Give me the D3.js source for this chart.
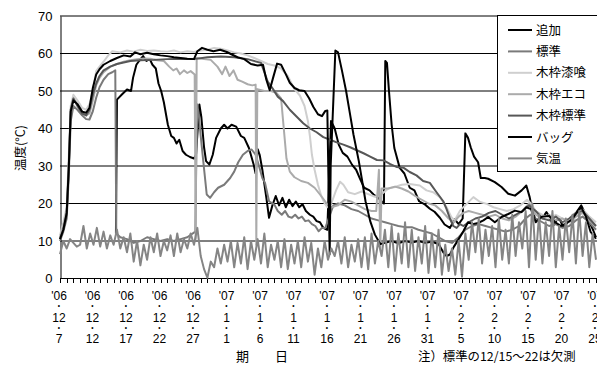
<!DOCTYPE html>
<html><head><meta charset="utf-8">
<script src="https://cdn.jsdelivr.net/npm/d3@7"></script>
<style>body{margin:0;background:#fff}svg{display:block}</style>
</head><body>
<svg id="chart" width="597" height="370"></svg>
<script>
// Temperatures of compost piles, Dec 7 2006 – Feb 25 2007.
// Each series: [day offset from 12/7, °C]
const tsuika = [[8.35,12],[8.5,47.7],[9.2,49],[10,50.4],[10.6,50],[10.9,53.5],[11.4,57],[11.8,58],[12.4,59.3],[12.9,58],[13.4,58.5],[13.8,57],[14.3,56],[14.7,52],[15.1,50],[15.5,47],[16.1,41],[16.6,38],[17,37.5],[17.4,36],[17.8,37],[18.3,34],[18.8,33],[19.4,32.4],[20,32],[20.3,33],[20.8,46.4],[21.1,43],[21.5,35],[21.8,31.3],[22.3,30.4],[22.8,33],[23.3,37.5],[24,40],[24.5,41],[25,40],[25.6,41],[26.3,40.5],[27,38],[27.5,37.5],[28.2,34.8],[28.9,30.4],[29.2,28],[29.5,34.5],[29.8,33],[30.2,29],[30.8,21.5],[31.2,16.2],[31.7,19.5],[32.2,22],[32.7,19.5],[33.2,21.5],[33.7,19],[34.2,21],[34.7,19.3],[35.2,20.5],[35.7,19],[36.2,19.8],[36.7,18],[37.3,17],[37.8,16.5],[38.3,15.3],[38.8,15],[39.3,13.5],[39.9,13],[40.45,42],[41,40],[41.6,35.7],[42.2,33.5],[42.9,32.5],[43.6,30.3],[44.2,29],[44.8,26.5],[45.4,24.2],[46.2,23.5],[46.8,22.4],[47.5,21.5],[48,20.6],[48.35,20],[48.55,58],[48.8,57.5],[49.1,50],[49.5,41],[49.9,34.8],[50.7,29.5],[51.4,28],[52.2,24.2],[52.9,23.5],[53.6,20.6],[54.5,19.7],[55.2,18.6],[55.9,17.8],[56.7,16.2],[57.4,14.4],[58.2,13.5],[58.9,15.8],[59.5,14.5],[60.1,16],[60.5,38.7],[60.9,37.5],[61.3,35],[61.8,32.5],[62.4,31],[62.8,26.8],[63.4,26.8],[63.9,26.6],[64.9,25.7],[65.9,24.4],[66.9,22.6],[67.9,22.1],[68.9,23.5],[69.6,24.8],[70.1,21.7],[70.6,17.2],[71.1,15.5],[71.6,16],[72.1,16.4],[72.6,17.7],[73.1,16.3],[73.6,14.1],[74.1,15.5],[74.6,15.8],[75.1,13.7],[75.8,15],[76.6,15.8],[77.1,17.7],[77.8,19.5],[78.3,17.7],[78.8,15.9],[79.6,12.8],[80,11]];

const hyojun = [[0,10],[0.5,12.5],[1,16],[1.3,27],[1.6,42],[2,46],[2.6,45],[3.3,43.5],[3.9,42.5],[4.4,42.4],[4.9,44.6],[5.4,48.2],[5.9,51],[6.5,53],[7.2,54.5],[7.8,55],[8.25,55.5],[8.4,12],[9,11],[10,10.5],[11,9.5],[12,10],[13,11],[14,10.5],[15,10],[16,10.5],[17,10],[18,10.5],[19,11],[20.2,12.5],[20.45,46.5],[20.7,44],[21,38],[21.4,31],[21.9,22.4],[22.4,21.5],[23,23],[23.6,24.2],[24.5,25],[25.4,26.8],[26,28.5],[26.6,31],[27.3,33],[28,34],[28.6,34.4],[29.2,33],[29.7,30],[30.2,26.8],[30.6,25.5],[31.2,20.6],[32,19.7],[32.5,18],[33.1,17],[33.6,18],[34.1,16.5],[34.6,16.2],[35.1,17],[35.6,16],[36.1,16.5],[36.6,15.3],[37.1,15.5],[37.6,14.5],[38.1,14],[38.6,12.6],[39.1,13.5],[39.6,13.5],[40.1,16],[40.8,19.5],[41.5,20],[42.5,19.5],[43.5,18.5],[44.5,18],[45.5,17],[46.5,16],[47.5,15.5],[48.5,15],[49.5,14.5],[50.5,14],[51.5,13.7],[52.5,13.7],[53.5,13],[54.5,12.5],[55.5,12],[56.5,11],[57.5,10],[58.5,9.5],[59.5,11],[60.5,13],[61.5,14],[62.5,14.5],[63.5,14],[64.5,13.5],[65.5,13],[66.5,12.5],[67.5,13],[68.5,14],[69.5,16],[70.2,17],[71,16],[72,15],[73,14],[74,14.5],[75,13.5],[76,14],[77,15.5],[78,16.5],[79,15],[80,13]];

const shikkui = [[0,11.5],[0.5,15],[1,19],[1.3,32],[1.6,46],[2,49],[2.6,47.5],[3.3,45.5],[3.9,45],[4.4,46.5],[4.9,50],[5.4,55.3],[5.9,56.5],[6.5,57.8],[7.2,59.5],[7.8,60.6],[9,60.3],[10,60.8],[11,60.5],[12,61],[13,60.7],[14,60.8],[15,60.6],[16,60.5],[17,60.8],[18,60.3],[19,60.6],[20,60.4],[21,60.8],[22,61],[23,61.5],[24,61.3],[25,60.8],[26,60.3],[27,60],[28,59.5],[29,58.8],[30,58],[31,57.2],[32,56.8],[33,56],[34,54],[35,50.5],[35.8,48.8],[36.5,46],[37,42],[37.3,38],[37.6,33],[38,29],[38.5,25],[39,22],[39.5,20],[39.9,19],[40.5,20],[41.2,23.5],[41.8,25.8],[42.3,25],[43,23],[44,22.5],[45,23.2],[46,22.5],[47,21.8],[48,22.5],[49,24],[50,24.4],[51,25],[52.2,25.2],[53.7,24.8],[54.7,23.5],[55.7,23],[56.7,21.7],[57.7,19],[58.4,16.4],[58.9,15.5],[59.7,18.1],[60.7,19.9],[61.7,21.7],[62.7,20.4],[63.7,19.9],[64.7,19],[65.7,18.5],[66.7,18],[67.7,18.5],[68.7,19.5],[69.7,21],[70.3,20],[71,18],[72,17],[73,16],[74,17],[75,16],[76,15.5],[77,17],[78,18.5],[79,16.5],[80,15]];

const eco = [[0,11],[0.5,14],[1,18],[1.3,30],[1.6,45],[2,48],[2.6,46.5],[3.3,44.5],[3.9,43.5],[4.4,44],[4.9,47.5],[5.4,51.5],[5.9,53.5],[6.5,55],[7.5,56.5],[8.5,57.2],[9.5,57.8],[10.5,58.2],[11.5,58.5],[12.5,58.7],[13.5,58.6],[14.5,58.2],[15.5,58],[16.3,56.5],[16.9,55.5],[17.4,56],[17.9,54.5],[18.5,55.5],[19,54.8],[19.5,55.3],[20.1,54.4],[20.25,10.5],[20.4,58.8],[21.5,58.5],[22.5,58.3],[23.5,56.5],[24.2,54.5],[24.7,56.5],[25.3,54],[25.9,55.5],[26.5,53],[27.2,52.5],[28,51.8],[28.7,51.5],[29.2,51.7],[29.3,9],[29.45,50.5],[30.5,50],[31.5,50],[32.3,49.5],[33,48],[33.4,40],[33.8,32],[34.3,28.5],[35,27],[36,26],[37,25.5],[38,24.2],[38.8,22.4],[39.4,21],[39.8,20],[40.5,19],[41.5,19.5],[42.5,21],[43.5,20.5],[44.5,19.5],[45.5,18.5],[46.5,18],[47.2,18],[47.6,29],[47.8,8],[48,24],[49,24],[50,24.5],[51,24],[52,23.2],[53,22],[54,21],[55,20],[56,19.5],[57,18],[58,16],[58.8,15],[59.5,16.5],[60.2,17.5],[61,18],[62,17.5],[63,17],[64,16.5],[65,17],[66,16],[67,15.5],[68,16.5],[69,18],[70,20],[71,17],[72,16],[73,17],[74,15.5],[75,16],[76,15],[77,16.5],[78,17.5],[79,15.5],[80,14]];

const wakuHyojun = [[0,10.5],[0.5,13],[1,17],[1.3,29],[1.6,45],[2,48],[2.6,46],[3.3,44],[3.9,43.5],[4.4,45],[4.9,49],[5.4,52],[5.9,54],[6.5,55.5],[7.5,56.5],[8.5,57.2],[9.5,57.6],[10.5,58],[12,58.2],[14,58.3],[16,58.5],[18,58.6],[20,58.5],[22,59],[24,59.2],[26,59],[28,58.5],[30,57.5],[30.5,55],[31,52.5],[31.8,50.5],[32.5,48.5],[33.3,47.3],[34.3,45],[35.3,43.2],[36.3,41.4],[37.3,40],[38.3,39],[39.3,37.7],[40.3,37],[41.3,36.3],[42.3,35.7],[43.3,35],[44.3,34.2],[45.3,33.4],[46.3,32.5],[47.3,31.6],[48.3,31.5],[49.3,30.5],[50.3,29.7],[51.3,29.5],[52.2,28.4],[53.2,27.5],[54.2,26],[55.2,25.5],[56.2,23],[57.2,20.6],[57.7,18.5],[58.2,16],[58.7,14],[59.2,13.5],[59.7,14.5],[60.2,14],[61,15],[62,16],[63,16.5],[64,17.5],[65,18],[66,17],[67,16],[68,17],[69,18],[70,19.5],[71,18],[72,16],[73,15.5],[74,16.5],[75,15],[76,16],[77,17.5],[78,18],[79,16],[80,14]];

const bag = [[0,10.5],[0.5,13],[1,17.5],[1.3,29],[1.6,44.5],[2,47.5],[2.6,46.5],[3.3,44.5],[3.9,44.2],[4.4,45.5],[4.9,50.8],[5.4,54.4],[5.9,55.8],[6.5,57],[7.5,58],[8.5,58.8],[9.5,59.5],[10.5,59.2],[11.2,60.3],[12,59.8],[13,60.2],[14,59.8],[15,59.5],[16,59.3],[17,59],[18,58.8],[19,58.6],[20,58.5],[20.5,60.6],[21.2,61.5],[22,61],[22.9,60.6],[23.9,61],[24.9,60.4],[25.8,59.6],[26.5,59],[27.5,58.5],[28.5,57.2],[29.5,56.8],[30.3,57],[30.8,53],[31.3,50.2],[31.8,53.5],[32.4,57.3],[33,57],[33.7,54.5],[34.3,52.2],[35,50.8],[35.7,50.2],[36.5,50],[37.2,48],[37.8,45.8],[38.5,43.8],[39.1,43.3],[39.6,44.7],[39.9,44.8],[40.25,6.5],[40.4,30],[41.1,60.8],[41.5,60.3],[42.1,55.3],[42.7,50],[43.3,43.7],[43.8,38.4],[44.6,31.3],[45.1,26],[45.6,20.6],[46.3,15.3],[47,11.7],[47.8,9.2],[48.5,9.5],[49.5,10],[50.5,9.4],[51.5,10],[52.5,9.6],[53.5,10],[54.5,9.5],[55.5,9.8],[56.5,9.2],[57.2,7],[57.7,6],[58.2,6.4],[58.8,8.5],[59.5,10.5],[60.2,12.6],[60.9,15],[61.6,14.5],[62.4,14.8],[63.2,15.5],[63.9,16.4],[64.9,15],[65.9,16.4],[66.9,17.2],[67.9,18.1],[68.9,17.7],[69.6,19],[70.3,18.5],[71,15],[71.9,16.5],[73,16.7],[73.9,15],[74.8,14],[75.6,14.8],[76.4,15.7],[77.1,17.5],[77.8,19],[78.5,16.5],[79.2,12.4],[80,10.6]];

// Air temperature, two readings per day starting 12/7
const kion = [6.5,10, 8,10.5, 9.5,8.5, 9,14, 8,12, 9,13.5, 8.5,12.5, 8,11.5, 9,13, 8,11, 7,12, 4.5,10, 3.5,9, 5,11, 7,12, 6,10, 7.5,11.5, 6,12, 7,10.5, 8,12, 9,13.5, 6,2.5, 0.2,4.5, 3,8, 4,9, 4.5,10, 3,9.5, 4,11, 2.5,10, 5,10.5, 4,12, 3,9, 5,10, 3,10.5, 2.5,9, 4,10, 3,11, 4.5,9.5, 1,8, 3,10, 5,8, 6,10, 4,11, 3,9, 4.5,10.5, 3,11, 2.5,12, 4,10, 6,13, 3,14, 2,12, 4,15, 3,13, 2,11, 4,14, 1.5,12, 3,13, 1,9, 2,8, 1,10, 0.5,12, 5,15, 7,16, 4,13, 6,14, 3,16, 5,13, 4,17, 6,15, 8,18, 3,20, 5,17, 4,15, 6,18, 3,14, 5,16, 7,17, 4,18, 6,15, 3,12, 5];

const seriesNames = ["追加","標準","木枠漆喰","木枠エコ","木枠標準","バッグ","気温"];
const seriesColors = ["#000000","#7a7a7a","#cfcfcf","#ababab","#575757","#000000","#858585"];
const yTicks = [0,10,20,30,40,50,60,70];
const xLabelDays = d3.range(0, 81, 5);
const startDate = new Date(2006, 11, 7);

const svg = d3.select("#chart");
const x = d3.scaleLinear().domain([0, 80]).range([60, 596]);
const y = d3.scaleLinear().domain([0, 70]).range([278.5, 16]);

// horizontal gridlines
svg.append("g").selectAll("line").data(yTicks.slice(1)).join("line")
  .attr("x1", 60).attr("x2", 597)
  .attr("y1", d => y(d)).attr("y2", d => y(d))
  .attr("stroke", "#000").attr("stroke-width", 1);

// y axis
const yAxis = d3.axisLeft(y).tickValues(yTicks).tickSize(0).tickPadding(8);
const gy = svg.append("g").attr("transform", "translate(60.5,0)").call(yAxis);
gy.select(".domain").attr("stroke", "#000");
gy.selectAll("text").attr("font-family", "Liberation Sans, Arial, sans-serif").attr("font-size", 13).attr("fill", "#000");

// x axis line and ticks
svg.append("line").attr("x1", 60).attr("x2", 597).attr("y1", 278.5).attr("y2", 278.5).attr("stroke", "#000");
svg.append("g").selectAll("line").data(d3.range(0, 80.5, 1)).join("line")
  .attr("x1", d => Math.round(x(d)) + 0.5).attr("x2", d => Math.round(x(d)) + 0.5)
  .attr("y1", 278.5).attr("y2", 283).attr("stroke", "#000");

// stacked date labels: year • month • day
const fmtY = d3.timeFormat("%y"), fmtM = d3.timeFormat("%-m"), fmtD = d3.timeFormat("%-d");
const xl = svg.append("g").attr("font-family", "Liberation Sans, Arial, sans-serif").attr("text-anchor", "middle").attr("fill", "#000");
xLabelDays.forEach(d => {
  const dt = d3.timeDay.offset(startDate, d);
  const cx = x(d) - 1;
  xl.append("text").attr("x", cx).attr("y", 299.5).attr("font-size", 12).text("'" + fmtY(dt));
  xl.append("text").attr("x", cx).attr("y", 307.8).attr("font-size", 6.5).text("•");
  xl.append("text").attr("x", cx).attr("y", 321.5).attr("font-size", 12).text(fmtM(dt));
  xl.append("text").attr("x", cx).attr("y", 329.6).attr("font-size", 6.5).text("•");
  xl.append("text").attr("x", cx).attr("y", 342.5).attr("font-size", 12).text(fmtD(dt));
});

// series lines
const line = d3.line().x(p => x(p[0])).y(p => y(p[1]));
const seriesData = [tsuika, hyojun, shikkui, eco, wakuHyojun, bag, kion.map((v, i) => [i / 2, v])];
svg.append("g").selectAll("path").data(seriesData).join("path")
  .attr("d", line).attr("fill", "none")
  .attr("stroke", (d, i) => seriesColors[i]).attr("stroke-width", 2)
  .attr("stroke-linejoin", "round");

// legend
const lg = svg.append("g");
lg.append("rect").attr("x", 497.5).attr("y", 15.5).attr("width", 110).attr("height", 156)
  .attr("fill", "#fff").attr("stroke", "#000");
seriesNames.forEach((n, i) => {
  const ly = 30 + i * 21.4;
  lg.append("line").attr("x1", 508).attr("x2", 532).attr("y1", ly).attr("y2", ly)
    .attr("stroke", seriesColors[i]).attr("stroke-width", 2);
  lg.append("text").attr("x", 536).attr("y", ly + 4.5).text(n)
    .attr("font-family", "Noto Sans CJK JP, sans-serif").attr("font-size", 12.5).attr("fill", "#000");
});

// axis titles and note
svg.append("text").attr("transform", "translate(25,148) rotate(-90)").attr("text-anchor", "middle")
  .attr("font-family", "Noto Sans CJK JP, sans-serif").attr("font-size", 12.5).text("温度(°C)");
svg.append("text").attr("x", 262).attr("y", 361).attr("text-anchor", "middle")
  .attr("font-family", "Noto Sans CJK JP, sans-serif").attr("font-size", 13).attr("xml:space", "preserve").text("期　　日");
svg.append("text").attr("x", 418).attr("y", 361)
  .attr("font-family", "Noto Sans CJK JP, sans-serif").attr("font-size", 12.4).text("注）標準の12/15〜22は欠測");
</script>
</body></html>
